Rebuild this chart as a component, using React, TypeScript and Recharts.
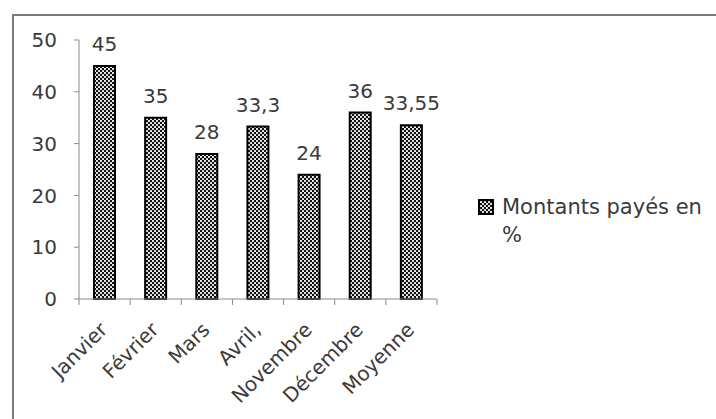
import React from 'react';
import { BarChart, Bar, XAxis, YAxis, LabelList } from 'recharts';

const categories = ['Janvier', 'Février', 'Mars', 'Avril,', 'Novembre', 'Décembre', 'Moyenne'];
const values = [45, 35, 28, 33.3, 24, 36, 33.55];
const valueLabels = ['45', '35', '28', '33,3', '24', '36', '33,55'];
const yTicks = [0, 10, 20, 30, 40, 50];
const seriesName = 'Montants payés en %';

const data = categories.map((c, i) => ({ mois: c, val: values[i], lab: valueLabels[i] }));

const FONT = '"DejaVu Sans", sans-serif';
const TXT = '#3a3a3a';
const AX = '#8a8a8a';

const XTick = (props: any) => {
  const { x, y, payload, index, visibleTicksCount, width } = props;
  const count = visibleTicksCount || categories.length;
  const half = payload && payload.offset ? payload.offset : width / (count * 2);
  const tx = x + 4;
  const ty = y + 32;
  const isLast = index === count - 1;
  return (
    <g>
      <path d={`M${x - half},${y}V${y + 6}`} stroke={AX} strokeWidth={1} fill="none" />
      {isLast && <path d={`M${x + half},${y}V${y + 6}`} stroke={AX} strokeWidth={1} fill="none" />}
      <text
        x={tx}
        y={ty}
        transform={`rotate(-45, ${tx}, ${ty})`}
        textAnchor="end"
        fontFamily={FONT}
        fontSize={20}
        fill={TXT}
      >
        {payload.value}
      </text>
    </g>
  );
};

const PatternDefs = () => (
  <defs>
    <pattern id="dots" width="4" height="4" patternUnits="userSpaceOnUse">
      <rect width="4" height="4" fill="#111" />
      <circle cx="1" cy="1" r="1.05" fill="#fff" />
      <circle cx="3" cy="3" r="1.05" fill="#fff" />
    </pattern>
  </defs>
);

export default function App() {
  return (
    <div style={{ position: 'absolute', left: 0, top: 0, width: 716, height: 419, background: '#fff', overflow: 'hidden' }}>
      <div
        style={{
          position: 'absolute',
          left: 12,
          top: 14,
          width: 702,
          height: 420,
          borderTop: '2px solid #7a7a7a',
          borderLeft: '2px solid #7a7a7a',
          borderRight: '1px solid #c8c8c8',
        }}
      />
      <div style={{ position: 'absolute', left: 0, top: 0 }}>
        <BarChart width={716} height={419} data={data} margin={{ top: 40, right: 279, left: 29, bottom: 0 }}>
          <PatternDefs />
          <XAxis
            dataKey="mois"
            height={120}
            axisLine={{ stroke: AX }}
            tickLine={false}
            tickSize={0}
            tickMargin={0}
            interval={0}
            tick={(p: any) => <XTick {...p} />}
          />
          <YAxis
            width={50}
            domain={[0, 50]}
            ticks={yTicks}
            axisLine={{ stroke: AX }}
            tickLine={{ stroke: AX }}
            tickSize={5}
            tickMargin={17}
            tick={{ fontFamily: FONT, fontSize: 20, fill: TXT }}
          />
          <Bar
            dataKey="val"
            name={seriesName}
            barSize={21}
            fill="url(#dots)"
            stroke="#000"
            strokeWidth={2}
            isAnimationActive={false}
          >
            <LabelList dataKey="lab" position="top" offset={15} style={{ fontFamily: FONT, fontSize: 20, fill: TXT }} />
          </Bar>
        </BarChart>
      </div>
      <div style={{ position: 'absolute', left: 478, top: 193, display: 'flex', alignItems: 'flex-start', fontFamily: FONT, fontSize: 21, color: TXT, lineHeight: '28px' }}>
        <svg width={16} height={16} style={{ marginTop: 6, marginRight: 8, flex: 'none' }}>
          <PatternDefs />
          <rect x={1} y={1} width={14} height={14} fill="url(#dots)" stroke="#000" strokeWidth={2} />
        </svg>
        <span style={{ width: 215, display: 'block' }}>{seriesName}</span>
      </div>
    </div>
  );
}
